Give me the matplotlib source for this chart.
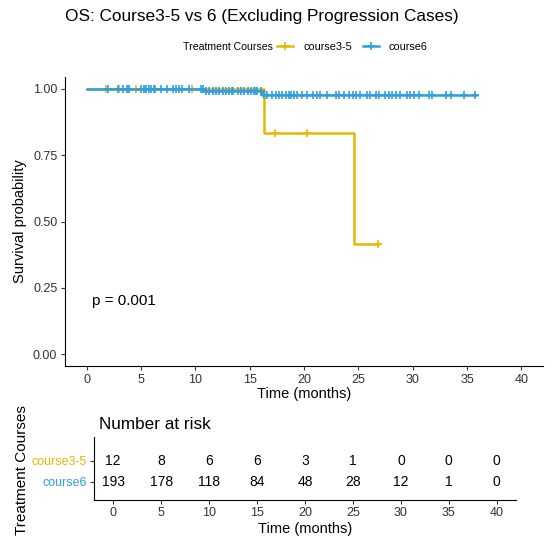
import numpy as np
import matplotlib
matplotlib.use("Agg")
import matplotlib.pyplot as plt
from matplotlib.lines import Line2D

plt.rcParams['font.family'] = ['Liberation Sans', 'DejaVu Sans']

# colours of the two groups
col35 = '#E7B800'
col6 = '#2E9FDF'

groups = ['course3-5', 'course6']

# Kaplan-Meier steps
c35_step_t = [0, 16.3, 24.6]
c35_step_s = [1.0, 0.833, 0.417]
c35_end = 26.8
c35_censor = [1.8, 3.0, 3.8, 4.5, 5.3, 9.7, 17.3, 20.3, 26.8]

c6_step_t = [0, 10.8, 16.1]
c6_step_s = [1.0, 0.991, 0.978]
c6_end = 35.8
c6_censor = [2.0, 2.9, 3.3, 3.7, 3.9, 5.0, 5.3, 5.5, 5.7, 5.9, 6.2, 6.3, 6.8,
             7.4, 7.9, 8.2, 8.5, 8.8, 9.4, 10.5, 10.7, 11.0, 11.3, 11.6, 11.9,
             12.2, 12.5, 12.8, 13.1, 13.4, 13.5, 13.9, 14.2, 14.5, 14.8, 15.1,
             15.4, 15.6, 15.7, 16.0, 16.3, 16.6, 17.1, 17.4, 17.7, 18.0, 18.3,
             18.6, 18.8, 19.1, 19.4, 19.8, 20.3, 20.8, 21.2, 21.5, 22.1, 22.9,
             23.2, 23.7, 24.1, 24.5, 24.8, 25.2, 25.8, 26.1, 26.6, 26.9, 27.5,
             27.8, 28.1, 28.5, 28.8, 29.5, 29.8, 30.1, 30.6, 31.5, 31.8, 33.1,
             33.5, 34.7, 35.7]

# number at risk table
risk_times = [0, 5, 10, 15, 20, 25, 30, 35, 40]
risk_c35 = [12, 8, 6, 6, 3, 1, 0, 0, 0]
risk_c6 = [193, 178, 118, 84, 48, 28, 12, 1, 0]

pval = 'p = 0.001'


def surv_at(t, step_t, step_s):
    i = np.searchsorted(step_t, t, side='right') - 1
    return np.array(step_s)[i]


fig = plt.figure(figsize=(5.55, 5.4), dpi=100)

# main survival plot
ax = fig.add_axes([65/555, 1-366/540, (543-65)/555, (366-77)/540])
for st, ss, end, cens, c in [(c35_step_t, c35_step_s, c35_end, c35_censor, col35),
                             (c6_step_t, c6_step_s, c6_end, c6_censor, col6)]:
    xs = list(st) + [end]
    ys = list(ss) + [ss[-1]]
    ax.plot(xs, ys, drawstyle='steps-post', color=c, lw=1.8)
    ax.plot(cens, surv_at(cens, st, ss), ls='none', marker='+', ms=6,
            mew=1.2, color=c)

ax.set_xlim(-2, 42)
ax.set_ylim(-0.045, 1.045)
ax.set_xticks(range(0, 45, 5))
ax.set_yticks([0, 0.25, 0.5, 0.75, 1.0])
ax.set_yticklabels(['0.00', '0.25', '0.50', '0.75', '1.00'])
ax.tick_params(labelsize=9, length=3, pad=2.5, colors='#333333',
               labelcolor='#333333')
for s in ['top', 'right']:
    ax.spines[s].set_visible(False)
ax.set_xlabel('Time (months)', fontsize=10.5, labelpad=1)
ax.set_ylabel('Survival probability', fontsize=10.5, labelpad=4)
ax.text(0.5, 0.2, pval, fontsize=11, ha='left', va='center')

fig.text(65/555, 1-17/540, 'OS: Course3-5 vs 6 (Excluding Progression Cases)',
         fontsize=12.4, ha='left', va='center')

# legend
fig.text(183/555, 1-47/540, 'Treatment Courses', fontsize=7.6, ha='left', va='center')
handles = [Line2D([], [], color=col35, marker='+', lw=1.8, ms=6, mew=1.2),
           Line2D([], [], color=col6, marker='+', lw=1.8, ms=6, mew=1.2)]
fig.legend(handles, groups, loc='center left', bbox_to_anchor=(277/555, 1-47/540),
           ncol=2, frameon=False, fontsize=7.8, handlelength=1.5,
           columnspacing=1.0, handletextpad=0.9, borderaxespad=0, borderpad=0)

# risk table
rx = fig.add_axes([94/555, 1-500/540, (516-94)/555, (500-437)/540])
for x, a, b in zip(risk_times, risk_c35, risk_c6):
    rx.text(x, 2, str(a), ha='center', va='center', fontsize=10)
    rx.text(x, 1, str(b), ha='center', va='center', fontsize=10)
rx.set_xlim(-2, 42)
rx.set_ylim(0.14, 3.14)
rx.set_xticks(risk_times)
rx.set_yticks([2, 1])
rx.set_yticklabels(groups)
rx.tick_params(labelsize=9, length=3, pad=2, colors='#333333')
for lab, c in zip(rx.get_yticklabels(), [col35, col6]):
    lab.set_color(c)
for s in ['top', 'right']:
    rx.spines[s].set_visible(False)
rx.set_xlabel('Time (months)', fontsize=10.5, labelpad=2)
rx.set_title('Number at risk', loc='left', fontsize=12.3, pad=6, x=0.012)
fig.text(22/555, 1-470/540, 'Treatment Courses', rotation=90, fontsize=11,
         ha='center', va='center')

fig.savefig('out.png', dpi=100)
